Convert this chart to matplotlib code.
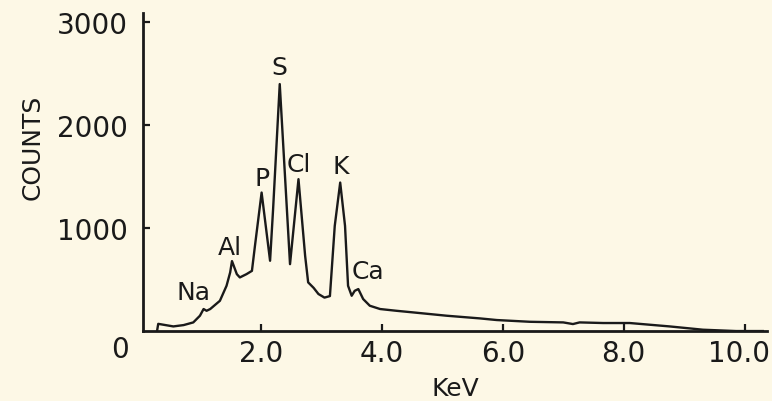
import matplotlib
matplotlib.use("Agg")
import matplotlib.pyplot as plt
import matplotlib.transforms as mtransforms

# spectrum
energy_kev = [0.28, 0.30, 0.40, 0.55, 0.72, 0.88, 0.99, 1.05, 1.10, 1.16,
              1.32, 1.43, 1.49, 1.52, 1.60, 1.65, 1.76, 1.85, 1.90, 2.01,
              2.15, 2.20, 2.31, 2.48, 2.62, 2.73, 2.78, 2.87, 2.95, 3.05,
              3.14, 3.22, 3.31, 3.39, 3.44, 3.50, 3.55, 3.61, 3.69, 3.80,
              3.97, 4.24, 4.52, 5.07, 5.62, 5.90, 6.45, 7.00, 7.16, 7.27,
              7.66, 8.10, 8.76, 9.31, 9.86, 10.30]
counts = [0, 70, 60, 45, 58, 84, 149, 214, 197, 214,
          294, 440, 570, 680, 553, 521, 553, 585, 828, 1346,
          683, 1184, 2400, 650, 1476, 731, 473, 420, 360, 325,
          340, 1022, 1443, 1022, 440, 343, 391, 408, 311, 246,
          214, 197, 181, 149, 123, 107, 90, 84, 68, 84,
          78, 78, 45, 13, 0, 0]

# element labels and their positions
elements = ["Na", "Al", "P", "S", "Cl", "K", "Ca"]
label_kev = [0.88, 1.49, 2.02, 2.31, 2.63, 3.32, 3.77]
label_counts = [379, 815, 1485, 2563, 1621, 1602, 582]

x_ticks = [2, 4, 6, 8, 10]
x_tick_labels = ["2.0", "4.0", "6.0", "8.0", "10.0"]
y_ticks = [1000, 2000, 3000]
y_tick_labels = ["1000", "2000", "3000"]

bg = "#fdf8e6"
ink = "#1a1a1a"

fig = plt.figure(figsize=(7.72, 4.02), dpi=100, facecolor=bg)
ax = fig.add_axes([0.185, 0.174, 0.8085, 0.791])
ax.set_facecolor(bg)

ax.plot(energy_kev, counts, color=ink, linewidth=1.7, solid_joinstyle="round")

for name, ex, ey in zip(elements, label_kev, label_counts):
    ax.text(ex, ey, name, ha="center", va="center", fontsize=18, color=ink)

ax.set_xlim(0.045, 10.37)
ax.set_ylim(0, 3090)

for side in ["top", "right"]:
    ax.spines[side].set_visible(False)
for side in ["left", "bottom"]:
    ax.spines[side].set_linewidth(2.0)
    ax.spines[side].set_color(ink)

ax.set_xticks(x_ticks)
ax.set_xticklabels(x_tick_labels)
ax.set_yticks(y_ticks)
ax.set_yticklabels(y_tick_labels)
ax.tick_params(axis="both", direction="in", length=5, width=1.6, colors=ink,
               labelsize=20)
ax.tick_params(axis="y", pad=11)
ax.tick_params(axis="x", pad=6)

# last x label sits a bit left so it stays inside the figure
last = ax.get_xticklabels()[-1]
last.set_transform(last.get_transform() +
                   mtransforms.ScaledTranslation(-6 / 100, 0, fig.dpi_scale_trans))

# single zero at the corner
ax.text(-0.34, -175, "0", ha="center", va="center", fontsize=20, color=ink,
        clip_on=False)

ax.set_xlabel("KeV", fontsize=18, color=ink, labelpad=6)
ax.set_ylabel("COUNTS", fontsize=18, color=ink)
ax.yaxis.set_label_coords(-0.158, 0.58)

fig.savefig("out.png", dpi=100, facecolor=bg)
